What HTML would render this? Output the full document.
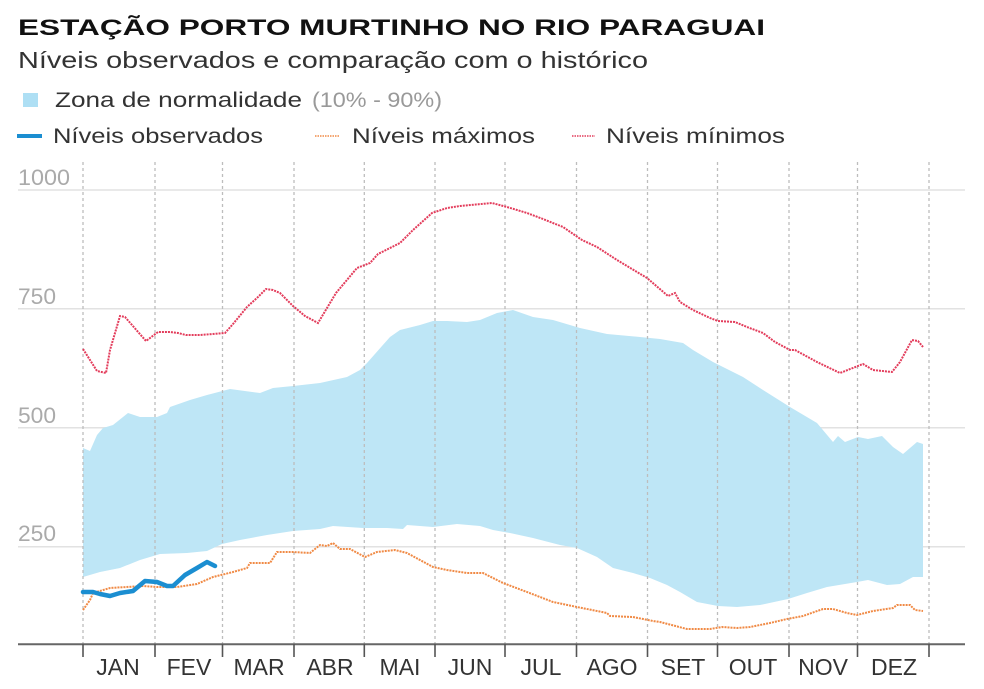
<!DOCTYPE html>
<html><head><meta charset="utf-8"><style>
html,body{margin:0;padding:0;background:#fff;}
svg{display:block;}
text{font-family:"Liberation Sans",Arial,sans-serif;}
</style></head><body>
<svg width="984" height="689" viewBox="0 0 984 689" xmlns="http://www.w3.org/2000/svg">
<rect width="984" height="689" fill="#fff"/>
<!-- Title -->
<text x="18" y="35" font-size="22.5" font-weight="bold" fill="#111" textLength="747" lengthAdjust="spacingAndGlyphs">ESTAÇÃO PORTO MURTINHO NO RIO PARAGUAI</text>
<text x="18" y="68" font-size="23" fill="#333" textLength="630" lengthAdjust="spacingAndGlyphs">Níveis observados e comparação com o histórico</text>
<!-- Legend row 1 -->
<rect x="23" y="93" width="15" height="14" fill="#aedff4"/>
<text x="55" y="107" font-size="21" fill="#333" textLength="247" lengthAdjust="spacingAndGlyphs">Zona de normalidade</text>
<text x="312" y="107" font-size="21" fill="#999" textLength="130" lengthAdjust="spacingAndGlyphs">(10% - 90%)</text>
<!-- Legend row 2 -->
<line x1="17" y1="136" x2="42" y2="136" stroke="#1b8ed1" stroke-width="4"/>
<text x="53" y="143" font-size="21" fill="#333" textLength="210" lengthAdjust="spacingAndGlyphs">Níveis observados</text>
<line x1="315" y1="136" x2="340" y2="136" stroke="#f08a45" stroke-width="1.5" stroke-dasharray="1.5,1"/>
<text x="352" y="143" font-size="21" fill="#333" textLength="183" lengthAdjust="spacingAndGlyphs">Níveis máximos</text>
<line x1="572" y1="136" x2="595" y2="136" stroke="#e33d5c" stroke-width="1.5" stroke-dasharray="1.5,1"/>
<text x="606" y="143" font-size="21" fill="#333" textLength="179" lengthAdjust="spacingAndGlyphs">Níveis mínimos</text>

<!-- Horizontal gridlines -->
<g stroke="#e2e2e2" stroke-width="1.5">
<line x1="18" y1="190" x2="965" y2="190"/>
<line x1="18" y1="308.7" x2="965" y2="308.7"/>
<line x1="18" y1="427.8" x2="965" y2="427.8"/>
<line x1="18" y1="546.7" x2="965" y2="546.7"/>
</g>
<g font-size="22" fill="#aaa">
<text x="18" y="185" textLength="52" lengthAdjust="spacingAndGlyphs">1000</text>
<text x="18" y="304" textLength="38" lengthAdjust="spacingAndGlyphs">750</text>
<text x="18" y="423" textLength="38" lengthAdjust="spacingAndGlyphs">500</text>
<text x="18" y="541" textLength="38" lengthAdjust="spacingAndGlyphs">250</text>
</g>

<!-- Band -->
<polygon fill="#bee6f6" points="83,448 90,451 97,435 103,428 113,425 128,413 140,417 157,417 167,413 170,407 190,400 207,395 230,389 260,393 273,388 293,386 320,383 347,377 360,370 367,363 390,337 400,330 420,325 433,321 447,321 467,322 480,320 497,313 513,310 533,317 553,320 580,328 607,334 640,337 660,339 683,343 693,350 713,362 743,377 763,390 790,407 817,423 833,442 838,436 845,442 858,437 868,439 882,436 893,447 903,454 917,442 923,444 923,577 913,577 900,584 887,585 868,580 857,582 827,587 807,593 788,599 760,605 737,607 718,606 697,602 680,592 667,585 650,578 633,573 613,568 597,557 577,548 560,545 533,538 510,533 493,530 480,526 457,524 433,527 407,525 403,529 387,528 363,528 333,526 320,529 293,531 267,535 240,540 222,544 207,551 187,553 160,554 140,560 120,568 100,572 83,577"/>

<!-- Vertical dotted gridlines -->
<g stroke="#bdbdbd" stroke-width="1.3" stroke-dasharray="3,3">
<line x1="83" y1="162" x2="83" y2="644"/>
<line x1="155" y1="162" x2="155" y2="644"/>
<line x1="222.5" y1="162" x2="222.5" y2="644"/>
<line x1="294" y1="162" x2="294" y2="644"/>
<line x1="364.3" y1="162" x2="364.3" y2="644"/>
<line x1="435" y1="162" x2="435" y2="644"/>
<line x1="505" y1="162" x2="505" y2="644"/>
<line x1="576.5" y1="162" x2="576.5" y2="644"/>
<line x1="647.5" y1="162" x2="647.5" y2="644"/>
<line x1="717.5" y1="162" x2="717.5" y2="644"/>
<line x1="789" y1="162" x2="789" y2="644"/>
<line x1="857.5" y1="162" x2="857.5" y2="644"/>
<line x1="929" y1="162" x2="929" y2="644"/>
</g>

<!-- Min line (red) -->
<polyline fill="none" stroke="#e33d5c" stroke-width="2" stroke-dasharray="2,1" points="83,349 97,371 106,373 110,350 120,316 125,317 146,341 158,332 170,332 178,333 186,335 200,335 225,333 233,324 247,307 258,297 266,289 273,290 280,293 293,306 305,316 318,323 336,293 357,268 370,263 378,254 400,243 413,230 432,213 447,208 460,206 492,203 507,207 527,213 543,219 563,227 582,240 597,247 617,260 647,278 668,296 675,293 680,302 693,310 710,318 718,321 735,322 747,327 763,333 775,342 790,350 795,350 817,362 840,373 863,364 873,370 892,372 900,362 912,340 918,341 923,347"/>

<!-- Max line (orange) -->
<polyline fill="none" stroke="#f08a45" stroke-width="2" stroke-dasharray="2,1" points="83,610 90,600 93,593 110,588 143,586 157,587 177,587 197,584 213,577 233,572 247,568 250,563 270,563 277,552 293,552 310,553 320,545 327,546 333,543 340,549 350,549 365,557 377,552 395,550 407,553 433,567 447,570 467,573 483,573 503,583 527,592 553,602 577,607 607,613 610,616 633,617 653,621 660,622 687,629 710,629 722,627 737,628 750,627 770,623 787,619 803,616 823,609 833,609 847,613 857,615 873,611 893,608 897,605 910,605 915,610 923,611"/>

<!-- Observed (blue) -->
<polyline fill="none" stroke="#1b8ed1" stroke-width="4.5" stroke-linejoin="round" stroke-linecap="round" points="83,592 93,592 100,594 110,596 120,593 133,591 145,581 157,582 167,586 173,586 185,575 197,568 207,562 215,566"/>

<!-- Axis -->
<line x1="18" y1="644.3" x2="965" y2="644.3" stroke="#666" stroke-width="2"/>
<g stroke="#555" stroke-width="1.6">
<line x1="83" y1="644" x2="83" y2="657"/>
<line x1="155" y1="644" x2="155" y2="657"/>
<line x1="222.5" y1="644" x2="222.5" y2="657"/>
<line x1="294" y1="644" x2="294" y2="657"/>
<line x1="364.3" y1="644" x2="364.3" y2="657"/>
<line x1="435" y1="644" x2="435" y2="657"/>
<line x1="505" y1="644" x2="505" y2="657"/>
<line x1="576.5" y1="644" x2="576.5" y2="657"/>
<line x1="647.5" y1="644" x2="647.5" y2="657"/>
<line x1="717.5" y1="644" x2="717.5" y2="657"/>
<line x1="789" y1="644" x2="789" y2="657"/>
<line x1="857.5" y1="644" x2="857.5" y2="657"/>
<line x1="929" y1="644" x2="929" y2="657"/>
</g>
<g font-size="23" fill="#333" text-anchor="middle">
<text x="118" y="675">JAN</text>
<text x="189" y="675">FEV</text>
<text x="259" y="675">MAR</text>
<text x="330" y="675">ABR</text>
<text x="400" y="675">MAI</text>
<text x="470" y="675">JUN</text>
<text x="541" y="675">JUL</text>
<text x="612" y="675">AGO</text>
<text x="683" y="675">SET</text>
<text x="753" y="675">OUT</text>
<text x="823" y="675">NOV</text>
<text x="894" y="675">DEZ</text>
</g>
</svg>
</body></html>
